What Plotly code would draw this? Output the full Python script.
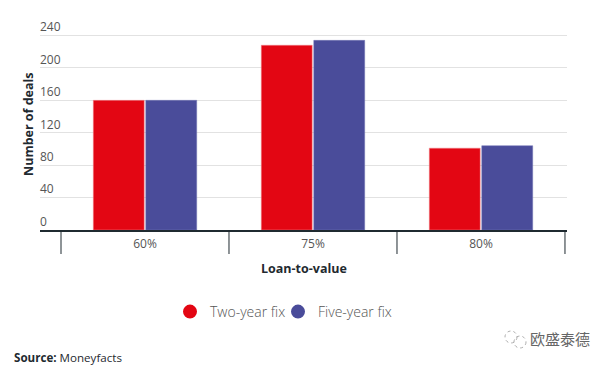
import plotly.graph_objects as go

categories = ["60%", "75%", "80%"]
two_year = [160, 228, 101]
five_year = [160, 234, 104]
y_ticks = [0, 40, 80, 120, 160, 200, 240]
RED = "#E30613"
BLUE = "#4A4C9A"
OFF = 8  # the page body's margin
W, H = 608 - OFF, 365 - OFF
L, R, T, B = 40 - OFF, 567 - OFF, 4, 230 - OFF
FONT = "Open Sans"

def px(v):
    return (v - OFF - L) / (R - L)

def py(v):
    return (B - (v - OFF)) / (B - T)

fig = go.Figure()
fig.add_bar(x=categories, y=two_year, marker=dict(color=RED, line=dict(color="#F08A90", width=0.5)), showlegend=False)
fig.add_bar(x=categories, y=five_year, marker=dict(color=BLUE, line=dict(color="#7375B5", width=0.5)), showlegend=False)
fig.add_scatter(x=[None], y=[None], mode="markers", name="Two-year fix", legend="legend", marker=dict(color=RED, size=16, line=dict(color=RED, width=2)))
fig.add_scatter(x=[None], y=[None], mode="markers", name="Five-year fix", legend="legend2", marker=dict(color=BLUE, size=16, line=dict(color=BLUE, width=2)))

y_per_px = 240 / (230 - 35.5)
shapes = [
    dict(type="line", xref="x", yref="paper", x0=i - 0.5, x1=i - 0.5, y0=0, y1=py(254),
         line=dict(color="#1F2A30", width=1))
    for i in range(len(categories) + 1)
]
shapes += [
    dict(type="circle", xref="paper", yref="paper",
         x0=px(cx - r), x1=px(cx + r), y0=py(cy + r), y1=py(cy - r),
         line=dict(color="#999999", width=0.8, dash="dot"))
    for cx, cy, r in [(511, 337, 6), (520, 342, 6)]
]
legend_style = dict(
    orientation="h", xref="paper", yref="paper", xanchor="left", y=py(312), yanchor="middle",
    font=dict(family=FONT, size=14, color="#555555", weight=300),
    itemsizing="constant", bgcolor="rgba(0,0,0,0)",
)
fig.update_layout(
    width=W, height=H, autosize=False, paper_bgcolor="white", plot_bgcolor="white",
    margin=dict(l=L, r=W - R, t=T, b=H - B),
    barmode="group", bargap=0.375, bargroupgap=0.03,
    font=dict(family=FONT, size=12, color="#555555"),
    xaxis=dict(
        type="category", categoryorder="array", categoryarray=categories,
        range=[-0.625, 2.512], ticks="", ticklabelstandoff=2, showgrid=False,
        showline=True, linecolor="#1F2A30", linewidth=2, zeroline=False,
        tickfont=dict(family=FONT, size=12, color="#555555"),
    ),
    yaxis=dict(
        range=[0, (B - T) * y_per_px], tickvals=y_ticks, ticklabelposition="inside top",
        ticklabelstandoff=-3,
        showgrid=True, gridcolor="#E2E2E2", gridwidth=1, zeroline=False, showline=False,
        ticks="", tickfont=dict(family=FONT, size=12, color="#555555"),
    ),
    legend=dict(x=px(170), **legend_style),
    legend2=dict(x=px(278), **legend_style),
    annotations=[
        dict(text="<b>Number of deals</b>", xref="paper", yref="paper", x=px(28),
             y=py(124), textangle=-90, showarrow=False, xanchor="center", yanchor="middle",
             font=dict(family=FONT, size=12.5, color="#1F2A30")),
        dict(text="<b>Loan-to-value</b>", xref="paper", yref="paper", x=px(304),
             y=py(268), showarrow=False, xanchor="center", yanchor="middle",
             font=dict(family=FONT, size=12.5, color="#1F2A30")),
        dict(text="<b>Source:</b> Moneyfacts", xref="paper", yref="paper", x=px(12),
             y=py(357), showarrow=False, xanchor="left", yanchor="middle",
             font=dict(family=FONT, size=11.6, color="#1F2A30")),
        dict(text="欧盛泰德", xref="paper", yref="paper", x=px(560),
             y=py(338), showarrow=False, xanchor="center", yanchor="middle",
             font=dict(family="Noto Sans CJK SC", size=15, color="#666666")),
    ],
    shapes=shapes,
)
fig.write_html("out.html")
